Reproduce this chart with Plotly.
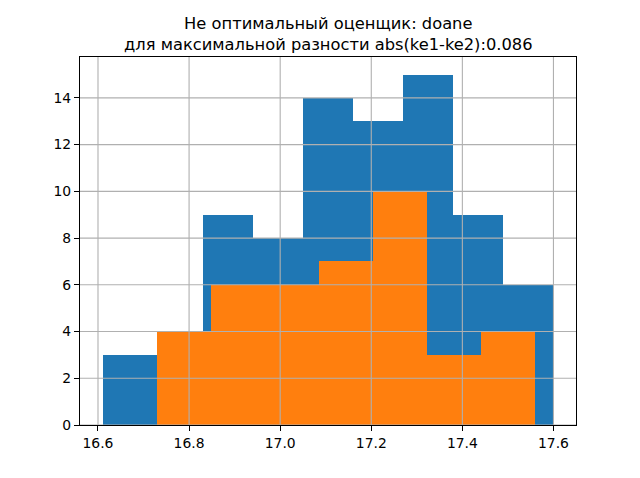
import plotly.graph_objects as go

# Data (bin edges and counts)
blue_edges = [16.610, 16.720, 16.830, 16.940, 17.050, 17.160, 17.270, 17.380, 17.490, 17.600]
blue_counts = [3, 3, 9, 8, 14, 13, 15, 9, 6]
orange_edges = [16.729, 16.848, 16.966, 17.085, 17.204, 17.323, 17.441, 17.560]
orange_counts = [4, 6, 6, 7, 10, 3, 4]
x_ticks = [16.6, 16.8, 17.0, 17.2, 17.4, 17.6]
x_tick_labels = ["16.6", "16.8", "17.0", "17.2", "17.4", "17.6"]
y_ticks = [0, 2, 4, 6, 8, 10, 12, 14]
title_lines = ["Не оптимальный оценщик: doane", "для максимальной разности abs(ke1-ke2):0.086"]


def bar_trace(edges, counts, color):
    centers = [(a + b) / 2 for a, b in zip(edges[:-1], edges[1:])]
    widths = [b - a for a, b in zip(edges[:-1], edges[1:])]
    return go.Bar(x=centers, y=counts, width=widths, marker=dict(color=color, line=dict(width=0)),
                  showlegend=False, hoverinfo="skip")


fig = go.Figure()
fig.add_trace(bar_trace(blue_edges, blue_counts, "#1f77b4"))
fig.add_trace(bar_trace(orange_edges, orange_counts, "#ff7f0e"))

xmin, xmax = blue_edges[0], blue_edges[-1]
pad = 0.05 * (xmax - xmin)
ymax = max(max(blue_counts), max(orange_counts)) * 1.05

shapes = []
for xv in x_ticks:
    shapes.append(dict(type="line", xref="x", yref="paper", x0=xv, x1=xv, y0=0, y1=1,
                       line=dict(color="#b0b0b0", width=1.1), layer="above"))
for yv in y_ticks:
    shapes.append(dict(type="line", xref="paper", yref="y", x0=0, x1=1, y0=yv, y1=yv,
                       line=dict(color="#b0b0b0", width=1.1), layer="above"))

annotations = [dict(text="<br>".join(title_lines), xref="paper", yref="paper", x=0.5, y=1,
                    xanchor="center", yanchor="middle", yshift=23, showarrow=False, align="center",
                    font=dict(family="DejaVu Sans", size=16.3, color="black"))]

fig.update_layout(
    width=640, height=478,
    margin=dict(l=80, r=64, t=57, b=53),
    paper_bgcolor="white", plot_bgcolor="white",
    barmode="overlay", bargap=0,
    font=dict(family="DejaVu Sans", size=13.9, color="black"),
    shapes=shapes,
    annotations=annotations,
    xaxis=dict(range=[xmin - pad, xmax + pad], tickvals=x_ticks, ticktext=x_tick_labels,
               showgrid=False, zeroline=False, showline=True, linecolor="black", linewidth=1.1,
               mirror=True, ticks="outside", ticklen=5, tickwidth=1.1, tickcolor="black",
               tickfont=dict(size=13.9)),
    yaxis=dict(range=[0, ymax], tickvals=y_ticks, showgrid=False, zeroline=False,
               showline=True, linecolor="black", linewidth=1.1, mirror=True,
               ticks="outside", ticklen=5, tickwidth=1.1, tickcolor="black",
               tickfont=dict(size=13.9)),
)

fig.write_html("out.html", config={"displayModeBar": False},
               post_script="document.body.style.margin='0';")
